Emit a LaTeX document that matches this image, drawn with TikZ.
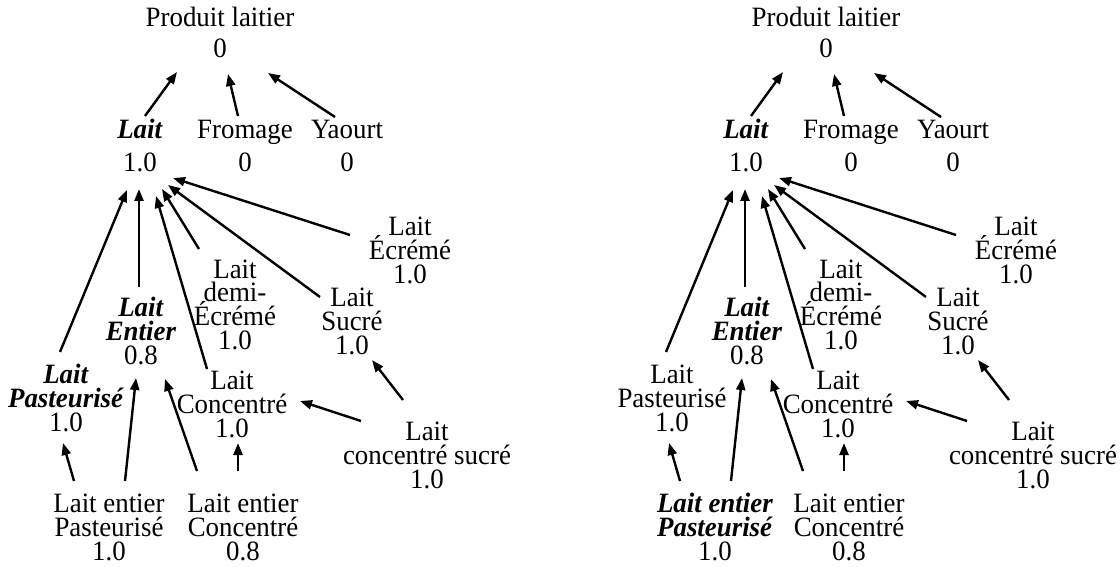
\documentclass[tikz,border=0pt]{standalone}
\usepackage{fontspec}
\setmainfont{Liberation Serif}[FakeStretch=0.96]
\usetikzlibrary{arrows.meta}
\newcommand{\txtfont}{\fontsize{28}{23.6}\selectfont\lineskiplimit=-100pt}
\newcommand{\hlt}[1]{\textbf{\textit{#1}}}

\begin{document}
\begin{tikzpicture}[x=1pt,y=-1pt,
  txt/.style={align=center,inner sep=0pt,anchor=base,font=\txtfont},
  arr/.style={-{Triangle[length=12pt,width=9pt]},line width=2.4pt}]
\useasboundingbox (0,0) rectangle (1120,567);
% two trees, the second one with the other path in bold
\foreach \dx/\t/\fa/\fb in {0/a/\hlt/\relax,606/b/\relax/\hlt}
{
  \node[txt] (prod\t) at (\dx+220,58) {Produit laitier\\[7.4pt]0};
  \node[txt] (lait\t) at (\dx+140,172) {\hlt{Lait}\\[10.4pt]1.0};
  \node[txt] (fromage\t) at (\dx+245,172) {Fromage\\[10.4pt]0};
  \node[txt] (yaourt\t) at (\dx+347,172) {Yaourt\\[10.4pt]0};
  \node[txt] (ecreme\t) at (\dx+410,283) {Lait\\Écrémé\\1.0};
  \node[txt] (demi\t) at (\dx+235,349) {Lait\\demi-\\Écrémé\\1.0};
  \node[txt] (sucre\t) at (\dx+352,354) {Lait\\Sucré\\1.0};
  \node[txt] (entier\t) at (\dx+141,364) {\hlt{Lait}\\\hlt{Entier}\\0.8};
  \node[txt] (past\t) at (\dx+66,431) {\fa{Lait}\\\fa{Pasteurisé}\\1.0};
  \node[txt] (conc\t) at (\dx+232,437) {Lait\\Concentré\\1.0};
  \node[txt] (csuc\t) at (\dx+427,488) {Lait\\concentré sucré\\1.0};
  \node[txt] (lep\t) at (\dx+109,560) {\fb{Lait entier}\\\fb{Pasteurisé}\\1.0};
  \node[txt] (lec\t) at (\dx+243,560) {Lait entier\\Concentré\\0.8};
  % arrows up to the parents
  \draw[arr] ([shift={(5,-56)}]lait\t.base) -- ([shift={(-43,14)}]prod\t.base);
  \draw[arr] ([shift={(-7,-56)}]fromage\t.base) -- ([shift={(8,16)}]prod\t.base);
  \draw[arr] ([shift={(-12,-55)}]yaourt\t.base) -- ([shift={(48,15)}]prod\t.base);
  \draw[arr] ([shift={(-6,-79)}]past\t.base) -- ([shift={(-13,18)}]lait\t.base);
  \draw[arr] ([shift={(-2,-77)}]entier\t.base) -- ([shift={(-1,17)}]lait\t.base);
  \draw[arr] ([shift={(-25,-68)}]conc\t.base) -- ([shift={(16,24)}]lait\t.base);
  \draw[arr] ([shift={(-36,-100)}]demi\t.base) -- ([shift={(22,17)}]lait\t.base);
  \draw[arr] ([shift={(-32,-57)}]sucre\t.base) -- ([shift={(28,13)}]lait\t.base);
  \draw[arr] ([shift={(-60,-48)}]ecreme\t.base) -- ([shift={(33,6)}]lait\t.base);
  \draw[arr] ([shift={(-35,-79)}]lep\t.base) -- ([shift={(-3,12)}]past\t.base);
  \draw[arr] ([shift={(16,-79)}]lep\t.base) -- ([shift={(-5,14)}]entier\t.base);
  \draw[arr] ([shift={(-46,-89)}]lec\t.base) -- ([shift={(24,15)}]entier\t.base);
  \draw[arr] ([shift={(-5,-89)}]lec\t.base) -- ([shift={(6,6)}]conc\t.base);
  \draw[arr] ([shift={(-66,-67)}]csuc\t.base) -- ([shift={(68,-36)}]conc\t.base);
  \draw[arr] ([shift={(-24,-88)}]csuc\t.base) -- ([shift={(20,6)}]sucre\t.base);
}
\end{tikzpicture}
\end{document}
